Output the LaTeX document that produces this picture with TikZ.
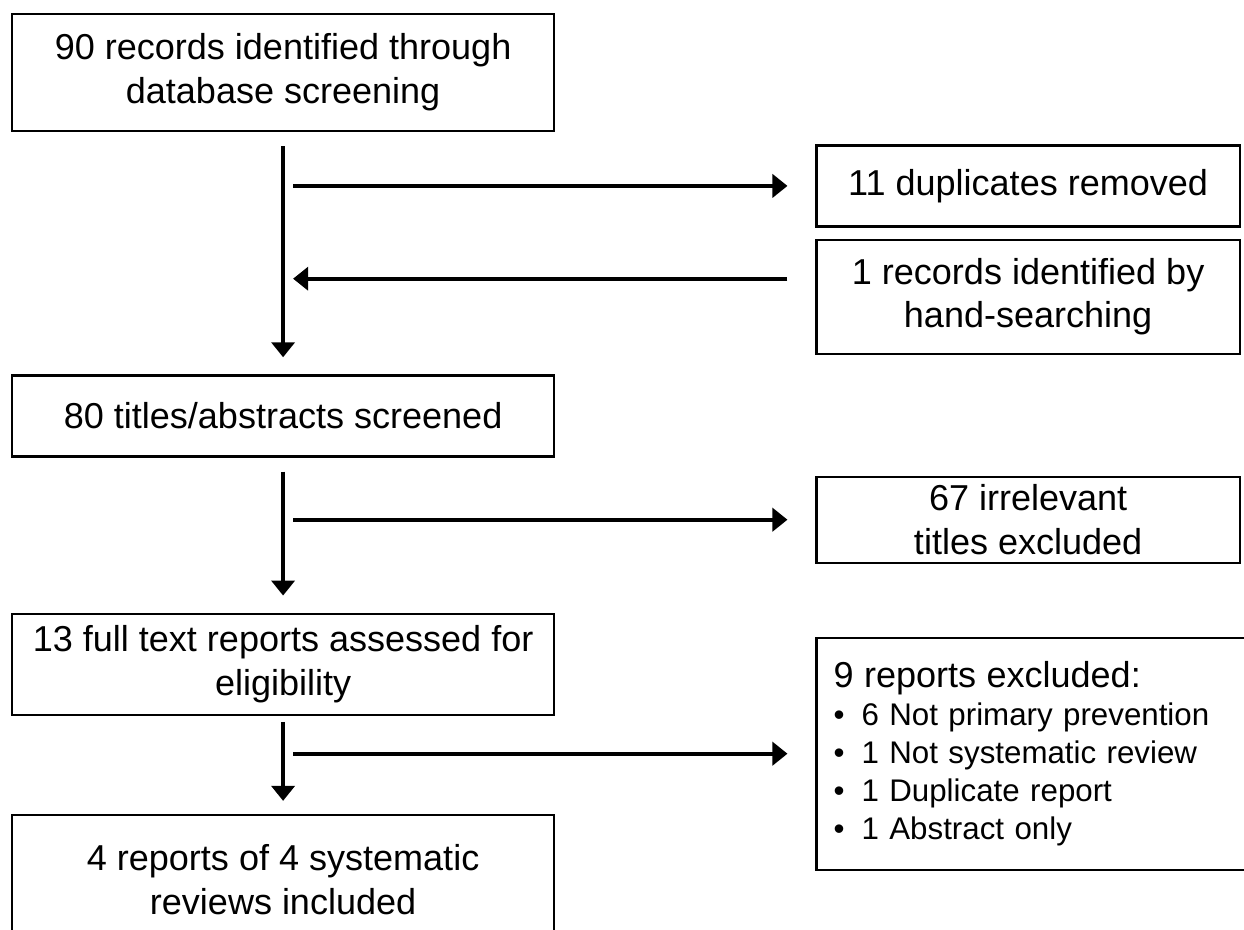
\documentclass[tikz,border=0pt]{standalone}
\usepackage{fontspec}
\setmainfont{Liberation Sans}
\usetikzlibrary{positioning,arrows.meta}

\begin{document}
\begin{tikzpicture}[
  every node/.style={font=\fontsize{20.5}{25}\selectfont},
  mainbox/.style={draw, line width=1.3pt, minimum width=10.85cm, inner sep=2pt, align=center},
  sidebox/.style={draw, line width=1.3pt, minimum width=8.46cm, inner sep=2pt, align=center},
  flow/.style={-{Triangle[length=0.3cm,width=0.46cm]}, line width=2.1pt},
  trunk/.style={flow, shorten <=0.28cm, shorten >=0.34cm},
  side/.style={flow, shorten <=0.2cm, shorten >=0.56cm},
  back/.style={flow, shorten <=0.56cm, shorten >=0.2cm}]

\useasboundingbox (0,0) rectangle (24.88,-18.6);
\clip (0,0) rectangle (24.88,-18.6);

\node[mainbox, minimum height=2.34cm, anchor=north west] (rec) at (0.214,-0.26) {90 records identified through\\database screening};
\node[mainbox, minimum height=1.62cm, below=4.84cm of rec] (titles) {80 titles/abstracts screened};
\node[mainbox, minimum height=2.02cm, below=3.1cm of titles] (full) {13 full text reports assessed for\\eligibility};
\node[mainbox, minimum height=2.58cm, below=1.96cm of full] (incl) {4 reports of 4 systematic\\reviews included};

\node[sidebox, minimum height=1.62cm, below right=0.24cm and 5.2cm of rec] (dupl) {11 duplicates removed};
\node[sidebox, minimum height=2.28cm, below=0.22cm of dupl] (hand) {1 records identified by\\hand-searching};
\node[sidebox, minimum height=1.72cm, below right=0.36cm and 5.2cm of titles] (irrel) {67 irrelevant\\titles excluded};
\node[sidebox, minimum width=9.04cm, minimum height=4.64cm, text width=8.36cm, inner xsep=0.34cm, align=left,
  font=\fontsize{17.8}{21.6}\selectfont, below right=0.48cm and 5.2cm of full.north east] (excl)
  {{\fontsize{20.5}{25}\selectfont 9 reports excluded:}\\
   \textbullet\hspace{0.34cm}6 Not primary prevention\\
   \textbullet\hspace{0.34cm}1 Not systematic review\\
   \textbullet\hspace{0.34cm}1 Duplicate report\\
   \textbullet\hspace{0.34cm}1 Abstract only};

\coordinate (ret) at ([yshift=0.36cm]hand.west);

\draw[trunk] (rec) -- (titles);
\draw[trunk] (titles) -- (full);
\draw[trunk, shorten <=0.12cm, shorten >=0.26cm] (full) -- (incl);
\draw[side] (rec.south |- dupl.west) -- (dupl.west);
\draw[back] (ret) -- (rec.south |- ret);
\draw[side] (titles.south |- irrel.west) -- (irrel.west);
\draw[side] (full.south |- excl.west) -- (excl.west);
\end{tikzpicture}
\end{document}
